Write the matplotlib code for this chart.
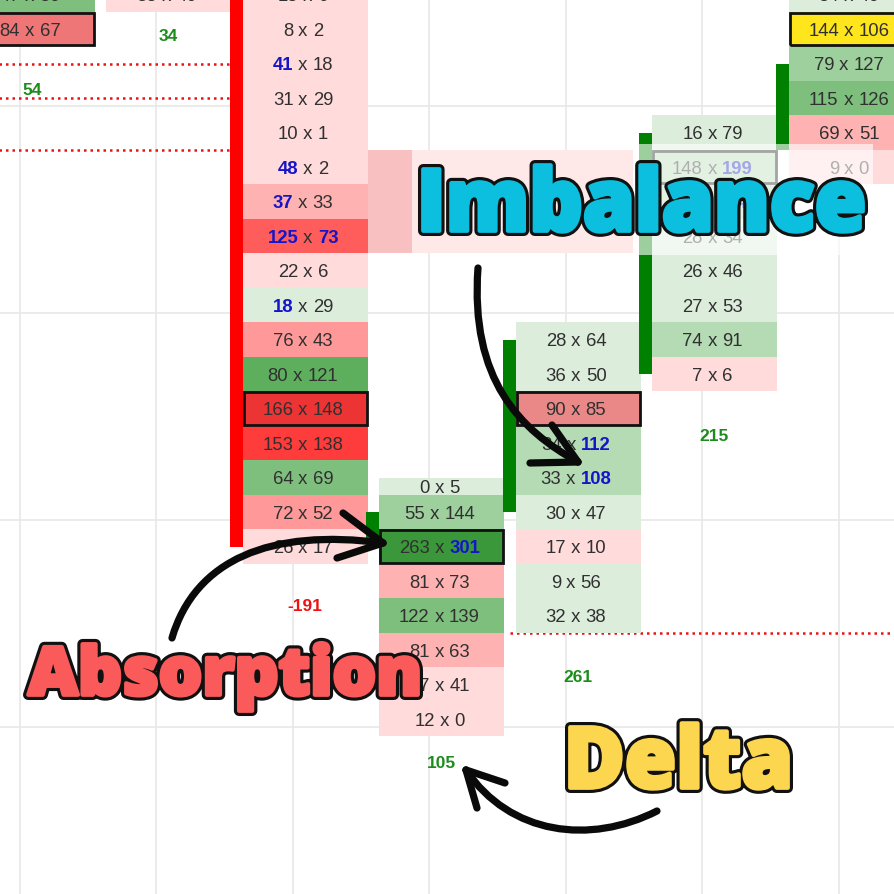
import matplotlib
matplotlib.use('Agg')
import matplotlib.pyplot as plt
import matplotlib.transforms as mtransforms
from matplotlib.patches import Rectangle, PathPatch
from matplotlib.path import Path
from matplotlib.textpath import TextPath
from matplotlib.font_manager import FontProperties

# footprint data: price level, bid volume, ask volume per bar
lv_a = [26, 25]
bid_a = [47, 84]
ask_a = [36, 67]

lv_b = [26]
bid_b = [35]
ask_b = [40]

lv_c = [26, 25, 24, 23, 22, 21, 20, 19, 18, 17, 16, 15, 14, 13, 12, 11, 10]
bid_c = [15, 8, 41, 31, 10, 48, 37, 125, 22, 18, 76, 80, 166, 153, 64, 72, 26]
ask_c = [9, 2, 18, 29, 1, 2, 33, 73, 6, 29, 43, 121, 148, 138, 69, 52, 17]

lv_d = [12, 11, 10, 9, 8, 7, 6, 5]
bid_d = [0, 55, 263, 81, 122, 81, 27, 12]
ask_d = [5, 144, 301, 73, 139, 63, 41, 0]

lv_e = [16, 15, 14, 13, 12, 11, 10, 9, 8]
bid_e = [28, 36, 90, 34, 33, 30, 17, 9, 32]
ask_e = [64, 50, 85, 112, 108, 47, 10, 56, 38]

lv_f = [22, 21, 20, 19, 18, 17, 16, 15]
bid_f = [16, 148, 37, 28, 26, 27, 74, 7]
ask_f = [79, 199, 114, 34, 46, 53, 91, 6]

lv_g = [26, 25, 24, 23, 22, 21]
bid_g = [54, 144, 79, 115, 69, 9]
ask_g = [46, 106, 127, 126, 51, 0]

# imbalance flags (b = bid blue, a = ask blue)
imb_a = ['', '']
imb_b = ['']
imb_c = ['', '', 'b', '', '', 'b', 'b', 'ba', '', 'b', '', '', '', '', '', '', '']
imb_d = ['', '', 'a', '', '', '', '', '']
imb_e = ['', '', '', 'a', 'a', '', '', '', '']
imb_f = ['', 'a', 'a', '', '', '', '', '']
imb_g = ['', '', '', '', '', '']

# point of control level, candle open/close, delta per bar
poc = [25, None, 14, 10, 14, 21, 25]
candle_open = [None, None, 26.6, 10, 11, 15, 21.5]
candle_close = [None, None, 10, 11, 16, 22, 24]
delta = [54, 34, -191, 105, 261, 215]

# naked levels (dotted red lines)
naked_lv = [24, 23, 21.5, 7.5]
naked_x0 = [-0.3, -0.3, -0.3, 3.5]
naked_x1 = [1.45, 1.45, 1.45, 6.4]

grid_lv = [22.77, 16.77, 10.77, 4.77]

# cell shading (style, kept apart from values)
shade_a = ['g3', 'p6']
shade_b = ['lp']
shade_c = ['lp', 'lp', 'lp', 'lp', 'lp', 'lp', 'p1', 'p3', 'lp', 'lg', 'p2', 'g4', 'p5', 'p4', 'g3', 'p2', 'lp']
shade_d = ['lg', 'g2', 'g5', 'p1', 'g3', 'p1', 'lp', 'lp']
shade_e = ['lg', 'lg', 'p7', 'g1', 'g1', 'lg', 'lp', 'lg', 'lg']
shade_f = ['lg', 'g1', 'g1', 'lg', 'lg', 'lg', 'g1', 'lp']
shade_g = ['lg', 'y', 'g2', 'g3', 'p1', 'lp']
palette = {'lp': '#FFDBDB', 'p1': '#FFB2B2', 'p2': '#FF9999', 'p3': '#FF5C5C',
           'p4': '#FF3C3C', 'p5': '#EC3434', 'p6': '#EE7676', 'p7': '#EA8888',
           'lg': '#DCEDDC', 'g1': '#B4DBB4', 'g2': '#9DD09D', 'g3': '#7EBF7E',
           'g4': '#5DAF5D', 'g5': '#3A983A', 'y': '#FFE61C'}

delta_gap = [1.77, 1.23, 1.75, 1.28, 1.8, 1.8]

fig = plt.figure(figsize=(8.94, 8.94), dpi=100)
ax = fig.add_axes([0, 0, 1, 1])
ax.set_xlim(-32 / 136.5, (894 - 32) / 136.5)
ax.set_ylim(25 - (894 - 29) / 34.5, 25 + 29 / 34.5)
ax.axis('off')
renderer = fig.canvas.get_renderer()

# background grid
for i in range(7):
    ax.axvline(i - 0.088, color='#E8E8E8', lw=1.2, zorder=0)
for g in grid_lv:
    ax.axhline(g, color='#E8E8E8', lw=1.2, zorder=0)

FS = 13.3
cell_font = ['Liberation Sans', 'DejaVu Sans']
width_cache = {}


def text_width(s, weight):
    key = (s, weight)
    if key not in width_cache:
        t = ax.text(0, 0, s, fontsize=FS, fontweight=weight, family=cell_font)
        width_cache[key] = t.get_window_extent(renderer).width
        t.remove()
    return width_cache[key]


def cell_label(x, y, b, a, flag):
    parts = [(str(b), 'b' in flag), (' x ', False), (str(a), 'a' in flag)]
    widths = [text_width(s, 'bold' if blue else 'normal') for s, blue in parts]
    off = -sum(widths) / 2 - 2
    for (s, blue), w in zip(parts, widths):
        tr = mtransforms.offset_copy(ax.transData, fig=fig, x=off, y=-FS * 0.716 / 2 * 100 / 72, units='dots')
        ax.text(x, y, s, transform=tr, ha='left', va='baseline', fontsize=FS,
                fontweight='bold' if blue else 'normal', color='#1515C8' if blue else '#303030',
                family=cell_font, zorder=4)
        off += w


def draw_column(i, levels, bids, asks, shades, flags, cut=None):
    for lv, b, a, sh, fl in zip(levels, bids, asks, shades, flags):
        lo = lv - 0.5
        hi = lv + 0.5 if cut is None else min(lv + 0.5, cut)
        ax.add_patch(Rectangle((i - 0.455, lo), 0.915, hi - lo, facecolor=palette[sh], lw=0, zorder=2))
        if lv == poc[i]:
            ax.add_patch(Rectangle((i - 0.447, lo + 0.03), 0.9, hi - lo - 0.06, fill=False,
                                   edgecolor='#111111', lw=2, zorder=3))
        cell_label(i, (lo + hi) / 2, b, a, fl)


draw_column(0, lv_a, bid_a, ask_a, shade_a, imb_a)
draw_column(1, lv_b, bid_b, ask_b, shade_b, imb_b)
draw_column(2, lv_c, bid_c, ask_c, shade_c, imb_c)
draw_column(3, lv_d, bid_d, ask_d, shade_d, imb_d, cut=12.0)
draw_column(4, lv_e, bid_e, ask_e, shade_e, imb_e)
draw_column(5, lv_f, bid_f, ask_f, shade_f, imb_f)
draw_column(6, lv_g, bid_g, ask_g, shade_g, imb_g)

# candle bodies
for i, (o, c) in enumerate(zip(candle_open, candle_close)):
    if o is None:
        continue
    col = '#FF0000' if c < o else '#008000'
    ax.add_patch(Rectangle((i - 0.55, min(o, c)), 0.095, abs(c - o), facecolor=col, lw=0, zorder=3))

# delta under each bar
lows = [min(l) for l in (lv_a, lv_b, lv_c, lv_d, lv_e, lv_f)]
for i, (d, lo) in enumerate(zip(delta, lows)):
    ax.text(i, lo - delta_gap[i], str(d), ha='center', va='center', fontsize=12.5, fontweight='bold',
            color='#1C8C1C' if d > 0 else '#EE1111', family=cell_font, zorder=4)

# naked levels
for lv, x0, x1 in zip(naked_lv, naked_x0, naked_x1):
    ax.plot([x0, x1], [lv, lv], color='#EE1111', lw=1.8, linestyle=(0, (1, 1.6)), zorder=1)

# annotation layer in pixel coordinates
ax2 = fig.add_axes([0, 0, 1, 1])
ax2.set_xlim(0, 894)
ax2.set_ylim(894, 0)
ax2.axis('off')
ax2.patch.set_alpha(0)

ax2.add_patch(Rectangle((368, 150), 44, 103, facecolor='#F8C0C0', lw=0, zorder=1))
ax2.add_patch(Rectangle((412, 150), 221, 103, facecolor='#FFE8E8', lw=0, zorder=1))
ax2.add_patch(Rectangle((633, 144), 240, 111, facecolor='white', alpha=0.62, lw=0, zorder=1))

big_font = FontProperties(family='Open Sans', weight='heavy')


def big_label(s, x0, x1, ytop, ybase, color):
    # fit the glyph outline into the box, then thicken it
    pad = 2.2
    tp = TextPath((0, 0), s, size=100, prop=big_font)
    cap = TextPath((0, 0), 'H', size=100, prop=big_font).get_extents().ymax
    ext = tp.get_extents()
    sx = (x1 - x0 - 2 * pad) / ext.width
    sy = (ybase - ytop - 2 * pad) / cap
    tr = mtransforms.Affine2D().translate(-ext.xmin, 0).scale(sx, -sy).translate(x0 + pad, ybase - pad)
    path = tr.transform_path(tp)
    ax2.add_patch(PathPatch(path, facecolor='#111111', edgecolor='#111111', lw=7.5,
                            joinstyle='round', zorder=5))
    ax2.add_patch(PathPatch(path, facecolor=color, edgecolor=color, lw=3,
                            joinstyle='round', zorder=6))


big_label('Imbalance', 421, 865, 167, 233, '#0CBFDE')
big_label('Absorption', 26, 420, 645, 697, '#FA5A5A')
big_label('Delta', 568, 790, 725, 790, '#FDD650')


def curve_arrow(p0, p1, p2, p3, arm1, arm2):
    path = Path([p0, p1, p2, p3], [Path.MOVETO, Path.CURVE4, Path.CURVE4, Path.CURVE4])
    ax2.add_patch(PathPatch(path, fill=False, lw=5.2, capstyle='round', edgecolor='#0A0A0A', zorder=7))
    for arm in (arm1, arm2):
        ax2.plot([arm[0], p3[0]], [arm[1], p3[1]], color='#0A0A0A', lw=5.2,
                 solid_capstyle='round', zorder=7)


curve_arrow((478, 268), (470, 380), (520, 430), (578, 462), (530, 463), (552, 425))
curve_arrow((172, 638), (195, 560), (270, 528), (383, 543), (343, 513), (337, 558))
curve_arrow((657, 811), (590, 845), (510, 835), (466, 770), (505, 783), (477, 808))

plt.savefig('out.png', dpi=100)
plt.close()
